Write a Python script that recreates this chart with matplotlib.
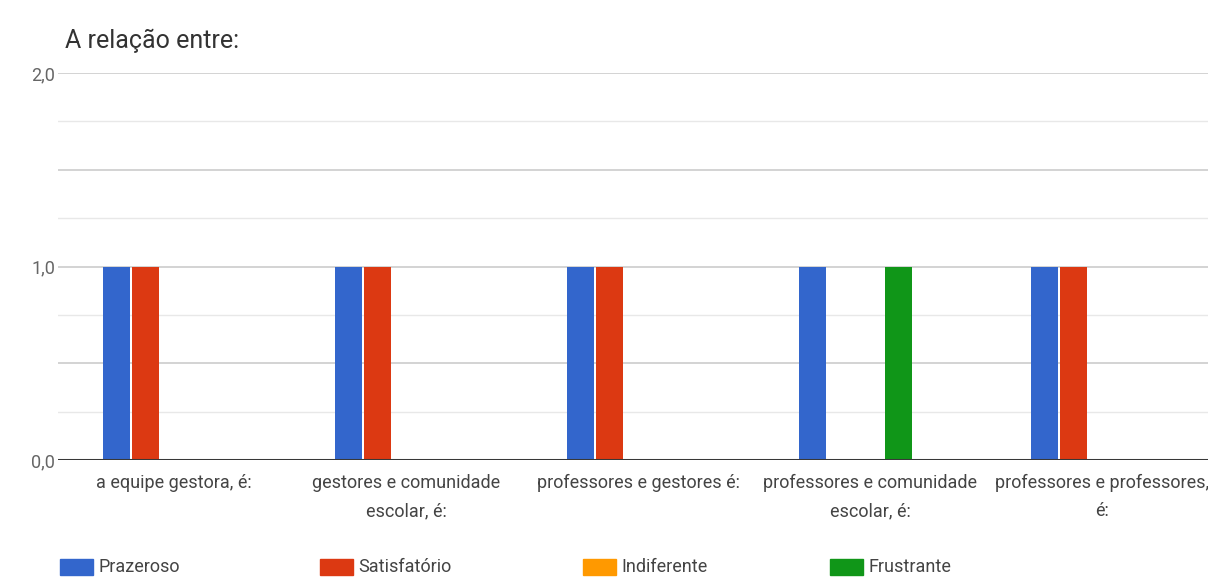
import matplotlib
matplotlib.use("Agg")
import matplotlib.pyplot as plt
from matplotlib.patches import Rectangle
import numpy as np

# Data
categories = [
    "a equipe gestora, é:",
    "gestores e comunidade\nescolar, é:",
    "professores e gestores é:",
    "professores e comunidade\nescolar, é:",
    "professores e professores,\né:",
]
series_names = ["Prazeroso", "Satisfatório", "Indiferente", "Frustrante"]
prazeroso = [1, 1, 1, 1, 1]
satisfatorio = [1, 1, 1, 0, 1]
indiferente = [0, 0, 0, 0, 0]
frustrante = [0, 0, 0, 1, 0]
series_values = [prazeroso, satisfatorio, indiferente, frustrante]
colors = ["#3366cc", "#dc3912", "#ff9900", "#109618"]
y_ticks = [0.0, 1.0, 2.0]
y_tick_labels = ["0,0", "1,0", "2,0"]

FONT = ["Liberation Sans Narrow", "Roboto", "DejaVu Sans"]
plt.rcParams["font.family"] = FONT

W, H = 1208, 581
fig = plt.figure(figsize=(W / 100, H / 100), dpi=100)
fig.patch.set_facecolor("white")

# Plot area: 0 at y=460 px, 2.0 at y=73 px; right side runs past the edge
left_px, right_px = 58, 1218
ax = fig.add_axes([left_px / W, (H - 460) / H, (right_px - left_px) / W, (460 - 73) / H])
ax.set_xlim(-0.5, len(categories) - 0.5)
ax.set_ylim(0, 2.0)

x = np.arange(len(categories))
slot = 0.1236
n_slots = 5
for i, (vals, col) in enumerate(zip(series_values, colors)):
    offset = (i - (n_slots - 1) / 2) * slot
    ax.bar(x + offset, vals, width=slot * 0.95, color=col, zorder=3,
           linewidth=0)

# Gridlines
for v in np.arange(0.25, 2.01, 0.25):
    strong = abs((v / 0.5) - round(v / 0.5)) < 1e-9
    ax.axhline(v, color="#d0d0d0" if strong else "#e8e8e8", lw=1.3 if strong else 1.0,
               zorder=1)
ax.axhline(0, color="#383838", lw=2.2, zorder=4)

for s in ax.spines.values():
    s.set_visible(False)

ax.set_yticks(y_ticks)
ax.set_yticklabels(y_tick_labels, fontsize=13, color="#666666")
ax.tick_params(axis="y", length=0, pad=2)
ax.set_xticks(x)
ax.set_xticklabels(categories, fontsize=13, color="#444444", linespacing=1.75)
ax.tick_params(axis="x", length=0, pad=10)

# Title
fig.text(65 / W, 1 - 41 / H, "A relação entre:", fontsize=18, color="#333333",
         ha="left", va="center")

# Legend
legend_x = [60, 320, 583, 830]
legend_y = 567
for name, col, lx in zip(series_names, colors, legend_x):
    fig.patches.append(Rectangle((lx / W, 1 - (legend_y + 8) / H), 33 / W, 16 / H,
                                 transform=fig.transFigure, color=col))
    fig.text((lx + 38) / W, 1 - legend_y / H, name, fontsize=13, color="#444444",
             ha="left", va="center")

fig.savefig("out.png", dpi=100)
